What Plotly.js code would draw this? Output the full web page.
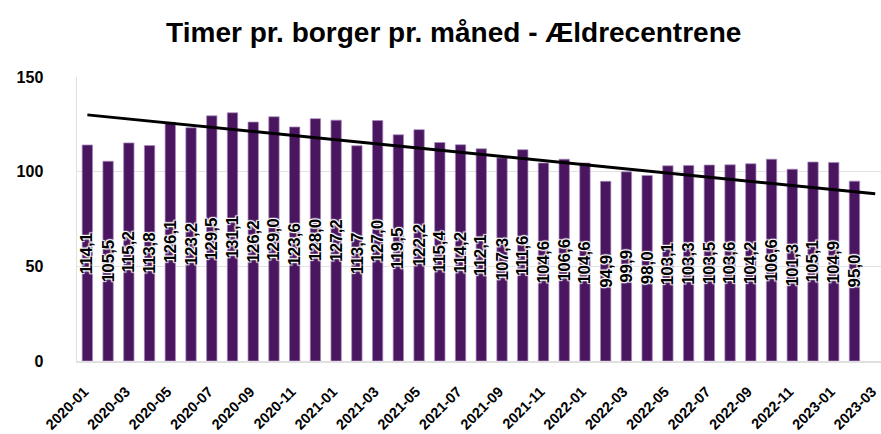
<!DOCTYPE html>
<html>
<head>
<meta charset="utf-8">
<script src="https://cdn.plot.ly/plotly-3.0.1.min.js"></script>
<style>html,body{margin:0;padding:0;background:#fff;}#chart{width:881px;height:434px;}</style>
</head>
<body>
<div id="chart"></div>
<script>
const months = ['2020-01','2020-02','2020-03','2020-04','2020-05','2020-06','2020-07','2020-08','2020-09','2020-10','2020-11','2020-12',
  '2021-01','2021-02','2021-03','2021-04','2021-05','2021-06','2021-07','2021-08','2021-09','2021-10','2021-11','2021-12',
  '2022-01','2022-02','2022-03','2022-04','2022-05','2022-06','2022-07','2022-08','2022-09','2022-10','2022-11','2022-12',
  '2023-01','2023-02','2023-03'];
const hours = [114.1,105.5,115.2,113.8,126.1,123.2,129.5,131.1,126.2,129.0,123.6,128.0,
  127.2,113.7,127.0,119.5,122.2,115.4,114.2,112.1,107.3,111.6,104.6,106.6,
  104.6,94.9,99.9,98.0,103.1,103.3,103.5,103.6,104.2,106.6,101.3,105.1,
  104.9,95.0,null];
const tickLabels = ['2020-01','2020-03','2020-05','2020-07','2020-09','2020-11','2021-01','2021-03','2021-05','2021-07','2021-09','2021-11',
  '2022-01','2022-03','2022-05','2022-07','2022-09','2022-11','2023-01','2023-03'];
const trendX = ['2020-01','2023-03'];
const trendY = [130.0, 88.3];

const FONT = 'Liberation Sans, Arial, sans-serif';
const GLOW = '1px 1px 1px #fff, -1px -1px 1px #fff, 1px -1px 1px #fff, -1px 1px 1px #fff, 0 0 2px #fff';

const bars = {
  type: 'bar', x: months, y: hours,
  marker: {color: '#4a1660', line: {color: 'rgba(170,140,190,0.9)', width: 0.8}},
  hoverinfo: 'x+y', showlegend: false
};
const trend = {
  type: 'scatter', mode: 'lines', x: trendX, y: trendY,
  line: {color: '#000', width: 3}, showlegend: false, hoverinfo: 'skip'
};

const annotations = [];
months.forEach((m, i) => {
  const v = hours[i];
  if (v === null) return;
  annotations.push({
    x: m, y: v / 2, xref: 'x', yref: 'y', showarrow: false,
    text: v.toFixed(1).replace('.', ','), textangle: -90,
    xanchor: 'center', yanchor: 'middle',
    font: {family: FONT, size: 17, color: '#000', weight: 'bold', shadow: GLOW}
  });
});

const layout = {
  width: 881, height: 434,
  margin: {l: 77, r: 0, t: 77, b: 73},
  paper_bgcolor: '#fff', plot_bgcolor: '#fff',
  separators: ',.',
  bargap: 0.5,
  font: {family: FONT, color: '#000'},
  title: {text: 'Timer pr. borger pr. måned - Ældrecentrene', x: 0.515, xref: 'container', xanchor: 'center',
    y: 0.925, yref: 'container', yanchor: 'middle', font: {family: FONT, size: 28, weight: 'bold', color: '#000'}},
  annotations: annotations,
  xaxis: {type: 'category', categoryorder: 'array', categoryarray: months, automargin: false,
    range: [-0.5, 38.28], tickmode: 'array', tickvals: tickLabels, ticktext: tickLabels,
    tickangle: -45, tickfont: {family: FONT, size: 14.5, weight: 'bold', color: '#000'},
    showgrid: false, showline: true, linecolor: '#e0e0e0', linewidth: 1.5, ticks: '',
    ticklabelstandoff: 15, ticklabelshift: -3, zeroline: false, fixedrange: true},
  yaxis: {range: [0, 150], tickvals: [0, 50, 100, 150], showgrid: true, gridcolor: '#e2e2e2', gridwidth: 1.5,
    automargin: false,
    showline: true, linecolor: '#e0e0e0', linewidth: 1.5, zeroline: false, ticks: '',
    tickfont: {family: FONT, size: 16, weight: 'bold', color: '#000'}, ticklabelstandoff: 29, fixedrange: true}
};

Plotly.newPlot('chart', [bars, trend], layout, {displayModeBar: false, staticPlot: true});
</script>
</body>
</html>
